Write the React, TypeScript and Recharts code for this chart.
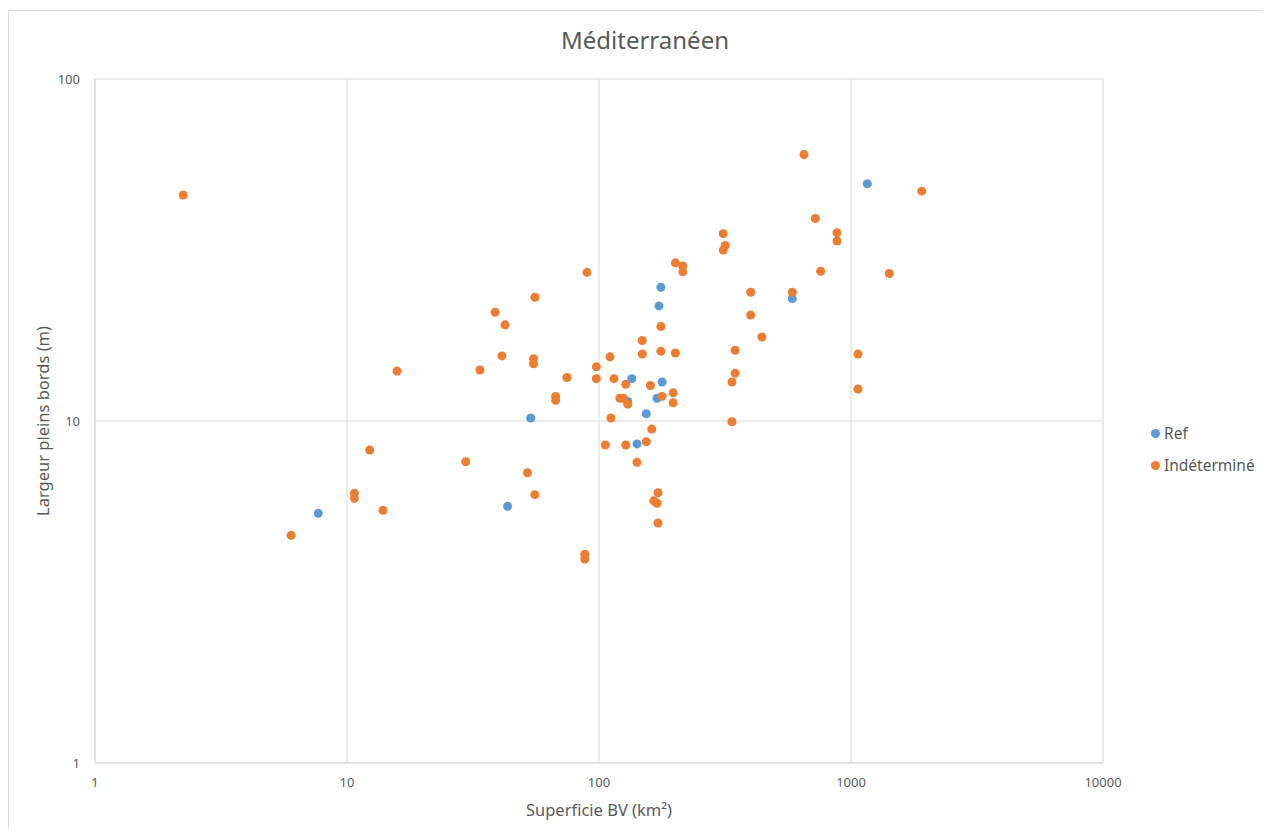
import {
  ScatterChart,
  Scatter,
  XAxis,
  YAxis,
  ZAxis,
  CartesianGrid,
} from "recharts";

// Superficie BV (km²) / Largeur pleins bords (m)
const refArea = [7.69, 43.4, 53.6, 135, 130, 141.5, 154, 170, 173, 176, 178, 585, 1161];
const refWidth = [5.37, 5.63, 10.2, 13.3, 11.4, 8.57, 10.5, 11.66, 21.7, 24.6, 13.0, 22.8, 49.4];

const indArea = [
  2.24, 6.0, 10.7, 10.7, 12.3, 13.9, 15.8, 29.6, 33.7, 38.7, 42.4, 41.2, 55.7, 55, 55,
  52, 55.6, 74.6, 67.3, 67.3, 89.6, 87.8, 87.8, 97.6, 97.6, 110.6, 114.7, 111.6, 106,
  121, 125, 127.7, 127.7, 130, 141.5, 148.5, 148.5, 154, 160, 162, 165, 170, 171.5,
  171.5, 176, 176, 178, 197, 197, 201, 201, 215, 215, 311, 317, 311, 337, 337, 347,
  347, 400, 400, 443, 585, 651, 722, 758, 880, 880, 1066, 1066, 1419, 1909,
];
const indWidth = [
  45.8, 4.63, 6.15, 5.94, 8.23, 5.48, 14.0, 7.6, 14.1, 20.8, 19.1, 15.5, 23.0, 15.2, 14.7,
  7.06, 6.09, 13.4, 11.8, 11.5, 27.2, 4.08, 3.95, 14.4, 13.3, 15.4, 13.3, 10.2, 8.51,
  11.66, 11.66, 12.8, 8.51, 11.2, 7.57, 17.2, 15.7, 8.7, 12.7, 9.47, 5.84, 5.75, 6.17,
  5.03, 18.9, 16.0, 11.8, 12.1, 11.3, 29.0, 15.8, 28.4, 27.3, 35.3, 32.6, 31.6, 13.0, 9.95, 13.8,
  16.1, 20.4, 23.8, 17.6, 23.8, 60.1, 39.1, 27.4, 35.5, 33.6, 15.7, 12.4, 27.0, 47.0,
];

const xTicks = [1, 10, 100, 1000, 10000];
const yTicks = [1, 10, 100];

const refData = refArea.map((x, i) => ({ x, y: refWidth[i] }));
const indData = indArea.map((x, i) => ({ x, y: indWidth[i] }));

const BLUE = "#5B9BD5";
const ORANGE = "#ED7D31";
const TEXT = "#595959";
const GRID = "#d9d9d9";
const FONT = "'Noto Sans', sans-serif";

export default function App() {
  const tick = { fill: TEXT, fontSize: 13, fontFamily: FONT };
  return (
    <div
      style={{
        position: "relative",
        marginTop: 2,
        width: 1261,
        height: 818,
        boxSizing: "border-box",
        borderTop: `1px solid ${GRID}`,
        borderLeft: `1px solid ${GRID}`,
        background: "#fff",
        fontFamily: FONT,
      }}
    >
      <div
        style={{
          position: "absolute",
          left: 336,
          top: 14,
          width: 600,
          textAlign: "center",
          fontSize: 24,
          lineHeight: "30px",
          color: TEXT,
        }}
      >
        Méditerranéen
      </div>

      <ScatterChart
        width={1260}
        height={817}
        margin={{ top: 68, right: 166, bottom: 5, left: 6 }}
      >
        <CartesianGrid stroke={GRID} strokeDasharray="" />
        <XAxis
          type="number"
          dataKey="x"
          scale="log"
          domain={[1, 10000]}
          ticks={xTicks}
          allowDataOverflow
          height={60}
          tickLine={false}
          tickSize={6}
          tickMargin={9}
          axisLine={{ stroke: GRID }}
          tick={tick}
          label={{
            value: "Superficie BV (km²)",
            position: "insideBottom",
            offset: 7,
            fill: TEXT,
            fontSize: 16.5,
            fontFamily: FONT,
          }}
        />
        <YAxis
          type="number"
          dataKey="y"
          scale="log"
          domain={[1, 100]}
          ticks={yTicks}
          allowDataOverflow
          width={80}
          tickLine={false}
          tickSize={6}
          tickMargin={9}
          axisLine={{ stroke: GRID }}
          tick={tick}
          label={{
            value: "Largeur pleins bords (m)",
            angle: -90,
            position: "insideLeft",
            offset: 28,
            fill: TEXT,
            fontSize: 16.5,
            fontFamily: FONT,
            style: { textAnchor: "middle" },
          }}
        />
        <ZAxis range={[90, 90]} />
        <Scatter name="Ref" data={refData} fill={BLUE} isAnimationActive={false} />
        <Scatter name="Indéterminé" data={indData} fill={ORANGE} isAnimationActive={false} />
      </ScatterChart>

      <div
        style={{
          position: "absolute",
          left: 1141,
          top: 412,
          color: TEXT,
          fontSize: 15.5,
          lineHeight: "20px",
        }}
      >
        {[
          { name: "Ref", color: BLUE },
          { name: "Indéterminé", color: ORANGE },
        ].map((item, i) => (
          <div
            key={item.name}
            style={{ display: "flex", alignItems: "center", height: 20, marginTop: i ? 12 : 0 }}
          >
            <span
              style={{
                width: 9,
                height: 9,
                borderRadius: "50%",
                background: item.color,
                marginRight: 4,
                marginLeft: 1,
              }}
            />
            {item.name}
          </div>
        ))}
      </div>
    </div>
  );
}
